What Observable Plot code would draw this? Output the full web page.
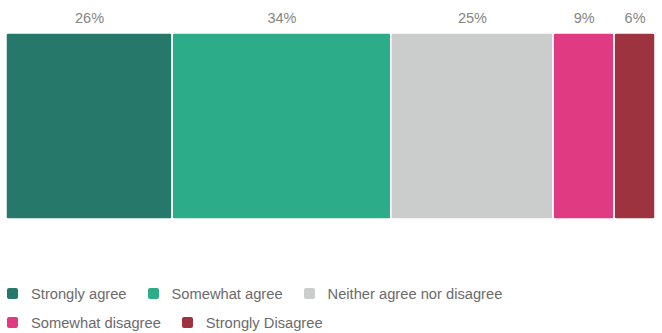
<!DOCTYPE html>
<html>
<head>
<meta charset="utf-8">
<script src="https://cdn.jsdelivr.net/npm/d3@7"></script>
<script src="https://cdn.jsdelivr.net/npm/@observablehq/plot@0.6"></script>
<style>
  body { margin: 0; background: #fff; font-family: "Liberation Sans", Arial, sans-serif; }
  #chart { width: 662px; height: 333px; position: relative; overflow: hidden; }
  .legend { position: absolute; left: 7px; top: 279px; font-size: 14.7px; color: #6b6b6b; }
  .row { display: flex; align-items: center; height: 29px; }
  .item { display: flex; align-items: center; margin-right: 21px; }
  .sw { width: 11px; height: 11px; border-radius: 2px; margin-right: 13px; }
</style>
</head>
<body>
<div id="chart"></div>
<script>
const categories = ["Strongly agree", "Somewhat agree", "Neither agree nor disagree", "Somewhat disagree", "Strongly Disagree"];
const values = [25.6, 33.7, 25.0, 9.4, 6.3];
const labels = ["26%", "34%", "25%", "9%", "6%"];
const colors = ["#26786a", "#2dac8a", "#cbcdcc", "#e03a82", "#9e3340"];
const legendRows = [[0, 1, 2], [3, 4]];

const data = categories.map((c, i) => ({category: c, value: values[i], label: labels[i], group: "all"}));

const plot = Plot.plot({
  width: 662,
  height: 240,
  marginLeft: 6,
  marginRight: 7,
  marginTop: 33,
  marginBottom: 21,
  style: {fontFamily: "Liberation Sans, Arial, sans-serif", background: "transparent"},
  x: {domain: [0, 100], axis: null},
  y: {axis: null, padding: 0},
  color: {domain: categories, range: colors},
  marks: [
    Plot.barX(data, {x: "value", y: "group", fill: "category", stroke: "white", strokeWidth: 1.5, rx: 2, order: null}),
    Plot.text(data, Plot.stackX({x: "value", text: "label", frameAnchor: "top", lineAnchor: "middle", dy: -15, fill: "#858585", fontSize: 14.5, order: null}))
  ]
});

const chart = document.getElementById("chart");
chart.appendChild(plot);

const legend = document.createElement("div");
legend.className = "legend";
for (const row of legendRows) {
  const r = document.createElement("div");
  r.className = "row";
  for (const i of row) {
    const it = document.createElement("div");
    it.className = "item";
    const sw = document.createElement("span");
    sw.className = "sw";
    sw.style.background = colors[i];
    const t = document.createElement("span");
    t.textContent = categories[i];
    it.appendChild(sw);
    it.appendChild(t);
    r.appendChild(it);
  }
  legend.appendChild(r);
}
chart.appendChild(legend);
</script>
</body>
</html>
